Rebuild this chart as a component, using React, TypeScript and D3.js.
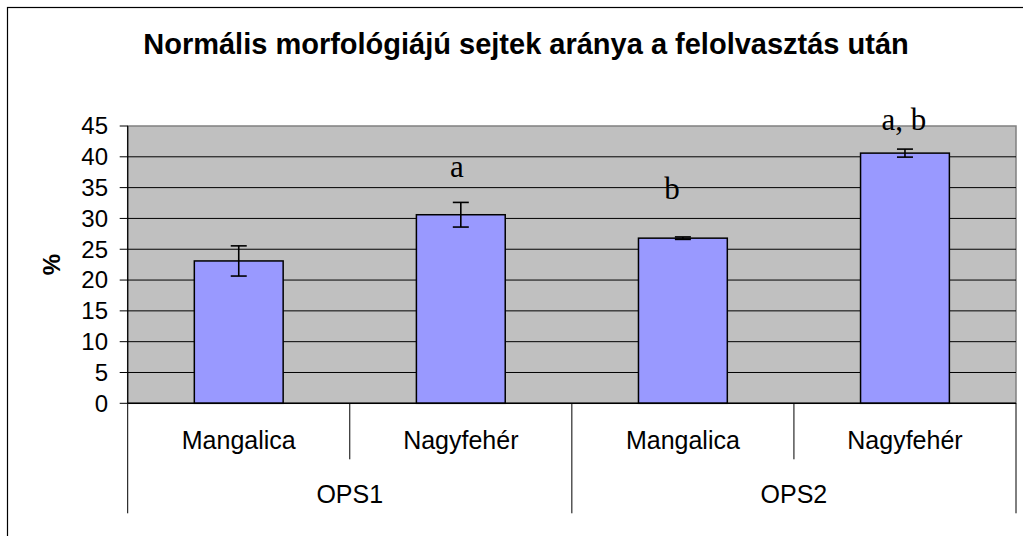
import React from "react";
import * as d3 from "d3";

// chart values
const groups = ["OPS1", "OPS2"];
const breeds = ["Mangalica", "Nagyfehér"];
const means = [23.1, 30.6, 26.8, 40.6];
const errors = [2.45, 2.0, 0.2, 0.65];
const marks = ["", "a", "b", "a, b"];
const markLevel = [0, 36.7, 33.1, 44.4];
const yTicks = [0, 5, 10, 15, 20, 25, 30, 35, 40, 45];
const title = "Normális morfológiájú sejtek aránya a felolvasztás után";

const W = 1023;
const H = 536;
const plot = { left: 127.7, right: 1016, top: 126, bottom: 403.3 };
const sans = "'Liberation Sans', Arial, sans-serif";
const serif = "'Liberation Serif', 'Times New Roman', serif";
const labelNudge = [0, -4, -11, -1];

export default function App() {
  const cats = d3.range(groups.length * breeds.length);
  const x = d3.scaleBand<number>().domain(cats).range([plot.left, plot.right]);
  const xg = d3.scaleBand<string>().domain(groups).range([plot.left, plot.right]);
  const y = d3.scaleLinear().domain([0, 45]).range([plot.bottom, plot.top]);
  const bw = x.bandwidth() * 0.4;
  const cap = 8;

  return (
    <svg
      width={W}
      height={H}
      style={{ position: "absolute", left: 0, top: 0, background: "#fff" }}
    >
      <rect x={7.5} y={7.5} width={W + 20} height={H + 20} fill="#fff" stroke="#000" strokeWidth={1.2} />

      <text x={526} y={54} textAnchor="middle" fontFamily={sans} fontWeight="bold" fontSize={29}>
        {title}
      </text>

      <rect
        x={plot.left}
        y={plot.top}
        width={plot.right - plot.left}
        height={plot.bottom - plot.top}
        fill="#C0C0C0"
        stroke="#808080"
        strokeWidth={1.5}
      />

      {yTicks.slice(1, -1).map((t) => (
        <line key={"g" + t} x1={plot.left} x2={plot.right} y1={y(t)} y2={y(t)} stroke="#000" strokeWidth={1} />
      ))}

      {/* y axis */}
      <line x1={plot.left} x2={plot.left} y1={plot.top} y2={plot.bottom} stroke="#000" strokeWidth={1.2} />
      {yTicks.map((t) => (
        <g key={"t" + t}>
          <line x1={plot.left - 8} x2={plot.left} y1={y(t)} y2={y(t)} stroke="#000" strokeWidth={1} />
          <text
            x={108}
            y={y(t)}
            dy="0.35em"
            textAnchor="end"
            fontFamily={sans}
            fontSize={24}
          >
            {t}
          </text>
        </g>
      ))}
      <text
        transform={`translate(52,${(plot.top + plot.bottom) / 2}) rotate(-90)`}
        textAnchor="middle"
        dy="0.35em"
        fontFamily={sans}
        fontWeight="bold"
        fontSize={24}
      >
        %
      </text>

      {/* bars */}
      {cats.map((i) => {
        const cx = (x(i) as number) + x.bandwidth() / 2;
        const hi = y(means[i] + errors[i]);
        const lo = y(means[i] - errors[i]);
        return (
          <g key={"b" + i}>
            <rect
              x={cx - bw / 2}
              y={y(means[i])}
              width={bw}
              height={plot.bottom - y(means[i])}
              fill="#9999FF"
              stroke="#000"
              strokeWidth={1.5}
            />
            <line x1={cx} x2={cx} y1={hi} y2={lo} stroke="#000" strokeWidth={1.6} />
            <line x1={cx - cap} x2={cx + cap} y1={hi} y2={hi} stroke="#000" strokeWidth={1.6} />
            <line x1={cx - cap} x2={cx + cap} y1={lo} y2={lo} stroke="#000" strokeWidth={1.6} />
            {marks[i] && (
              <text
                x={cx + labelNudge[i]}
                y={y(markLevel[i])}
                textAnchor="middle"
                fontFamily={serif}
                fontSize={31}
              >
                {marks[i]}
              </text>
            )}
          </g>
        );
      })}

      {/* x axis */}
      <line x1={plot.left} x2={plot.right} y1={plot.bottom} y2={plot.bottom} stroke="#000" strokeWidth={1.5} />
      {cats.map((i) => (
        <g key={"c" + i}>
          {i % breeds.length !== 0 && (
            <line
              x1={x(i) as number}
              x2={x(i) as number}
              y1={plot.bottom}
              y2={459.3}
              stroke="#000"
              strokeWidth={1}
            />
          )}
          <text
            x={(x(i) as number) + x.bandwidth() / 2}
            y={449.3}
            textAnchor="middle"
            fontFamily={sans}
            fontSize={25}
          >
            {breeds[i % breeds.length]}
          </text>
        </g>
      ))}
      {[...groups.map((g) => xg(g) as number), plot.right].map((gx, k) => (
        <line key={"l" + k} x1={gx} x2={gx} y1={plot.bottom} y2={513.3} stroke="#000" strokeWidth={1} />
      ))}
      {groups.map((g) => (
        <text
          key={g}
          x={(xg(g) as number) + xg.bandwidth() / 2}
          y={503.3}
          textAnchor="middle"
          fontFamily={sans}
          fontSize={25}
        >
          {g}
        </text>
      ))}
    </svg>
  );
}
